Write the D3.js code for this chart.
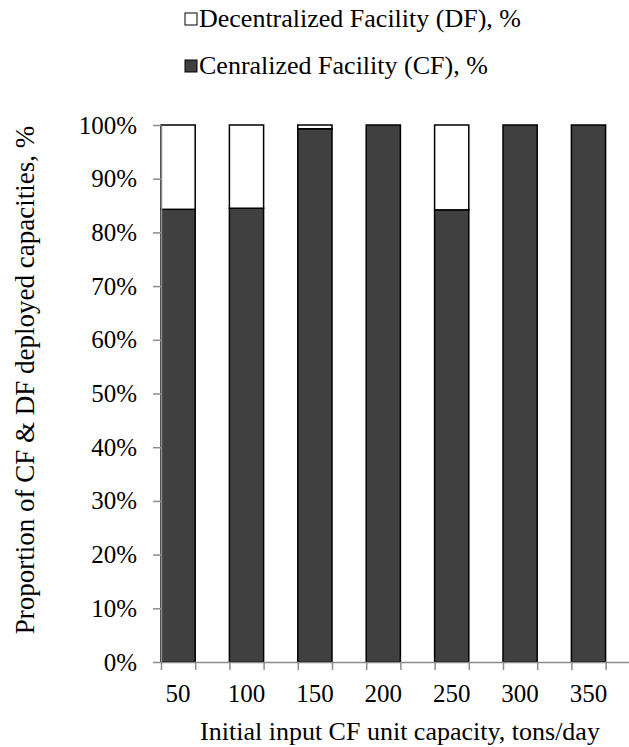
<!DOCTYPE html>
<html>
<head>
<meta charset="utf-8">
<script src="https://cdnjs.cloudflare.com/ajax/libs/d3/7.8.5/d3.min.js"></script>
<style>
  body { margin: 0; background: #fff; }
  text { font-family: "Liberation Serif", "Times New Roman", serif; fill: #000; }
</style>
</head>
<body>
<div id="chart"></div>
<script>
var categories = ["50", "100", "150", "200", "250", "300", "350"];
var cfShare = [0.843, 0.845, 0.993, 1.0, 0.842, 1.0, 1.0];
var dfShare = [0.157, 0.155, 0.007, 0.0, 0.158, 0.0, 0.0];
var seriesNames = ["Decentralized Facility (DF), %", "Cenralized Facility (CF), %"];
var yTicks = [0, 0.1, 0.2, 0.3, 0.4, 0.5, 0.6, 0.7, 0.8, 0.9, 1.0];

var width = 629, height = 747;
var plotLeft = 161, plotTop = 125, plotBottom = 662, slot = 34.2;

var rows = categories.map(function(c, i) {
  return {cat: c, idx: i, cf: cfShare[i], df: dfShare[i]};
});

// every category takes two slots, the bar sits in the first one
var x = d3.scaleLinear()
    .domain([0, categories.length * 2])
    .range([plotLeft, plotLeft + categories.length * 2 * slot]);

var y = d3.scaleLinear()
    .domain([0, 1])
    .range([plotBottom, plotTop]);

var svg = d3.select("#chart").append("svg")
    .attr("width", width)
    .attr("height", height);

var stack = d3.stack().keys(["cf", "df"]);
var layers = stack(rows);
var fills = {cf: "#404040", df: "#ffffff"};

svg.append("g")
    .attr("class", "bars")
  .selectAll("g")
  .data(layers)
  .enter().append("g")
    .attr("fill", function(d) { return fills[d.key]; })
  .selectAll("rect")
  .data(function(d) { return d.filter(function(p) { return p[1] - p[0] > 0; }); })
  .enter().append("rect")
    .attr("x", function(d) { return x(d.data.idx * 2); })
    .attr("width", function(d) { return x(d.data.idx * 2 + 1) - x(d.data.idx * 2); })
    .attr("y", function(d) { return y(d[1]); })
    .attr("height", function(d) { return y(d[0]) - y(d[1]); })
    .attr("stroke", "#000")
    .attr("stroke-width", 1.5);

// y axis
var yAxis = d3.axisLeft(y)
    .tickValues(yTicks)
    .tickFormat(d3.format(".0%"))
    .tickSize(8)
    .tickSizeOuter(0)
    .tickPadding(16);

var gy = svg.append("g")
    .attr("transform", "translate(" + plotLeft + ",0)")
    .call(yAxis);
gy.selectAll("path, line").attr("stroke", "#8c8c8c").attr("stroke-width", 1.5);
gy.selectAll("text")
    .style("font-size", "25px")
    .style("font-family", "Liberation Serif, Times New Roman, serif")
    .attr("fill", "#000");

// x axis, ticks at the edges of every slot
var xAxis = d3.axisBottom(x)
    .tickValues(d3.range(0, categories.length * 2 + 1))
    .tickFormat("")
    .tickSize(8)
    .tickSizeOuter(0);

var gx = svg.append("g")
    .attr("transform", "translate(0," + plotBottom + ")")
    .call(xAxis);
gx.selectAll("path, line").attr("stroke", "#8c8c8c").attr("stroke-width", 1.5);

svg.append("g")
    .attr("class", "xlabels")
  .selectAll("text")
  .data(categories)
  .enter().append("text")
    .attr("x", function(d, i) { return x(i * 2 + 0.5); })
    .attr("y", 702)
    .attr("text-anchor", "middle")
    .style("font-size", "25px")
    .text(function(d) { return d; });

// axis titles
svg.append("text")
    .attr("x", 400)
    .attr("y", 740)
    .attr("text-anchor", "middle")
    .style("font-size", "26px")
    .text("Initial input CF unit capacity, tons/day");

svg.append("text")
    .attr("transform", "translate(34,380) rotate(-90)")
    .attr("text-anchor", "middle")
    .style("font-size", "27px")
    .text("Proportion of CF & DF deployed capacities, %");

// legend
var legend = svg.append("g").attr("class", "legend");
var legendItems = [
  {name: seriesNames[0], fill: fills.df, y: 27},
  {name: seriesNames[1], fill: fills.cf, y: 74}
];
legend.selectAll("rect")
  .data(legendItems)
  .enter().append("rect")
    .attr("x", 185)
    .attr("y", function(d) { return d.y - 14; })
    .attr("width", 12)
    .attr("height", 12)
    .attr("fill", function(d) { return d.fill; })
    .attr("stroke", "#000")
    .attr("stroke-width", 1);
legend.selectAll("text")
  .data(legendItems)
  .enter().append("text")
    .attr("x", 199)
    .attr("y", function(d) { return d.y; })
    .style("font-size", "26px")
    .text(function(d) { return d.name; });
</script>
</body>
</html>
